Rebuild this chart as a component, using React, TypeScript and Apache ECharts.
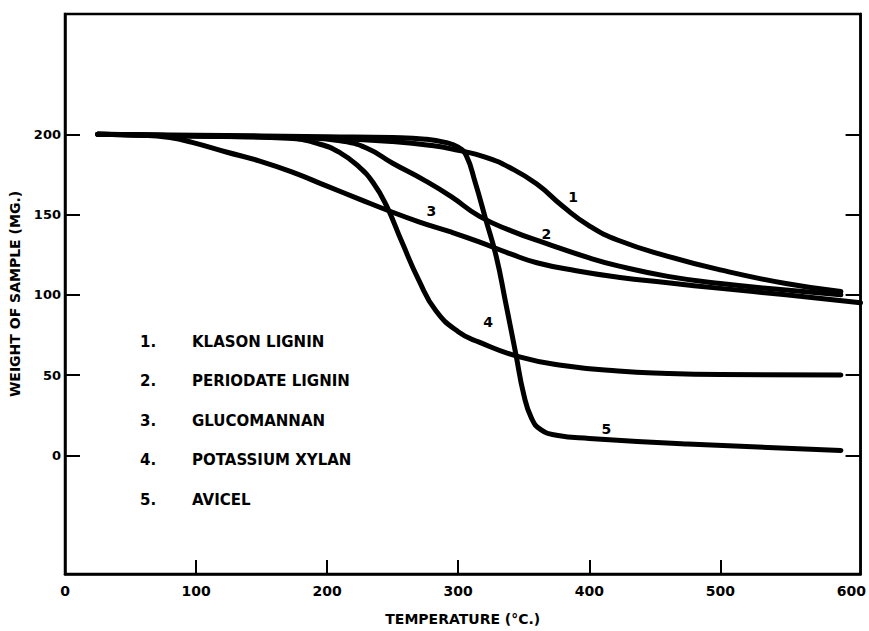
import React, { useEffect, useRef } from "react";
import * as echarts from "echarts";

// Thermogravimetric curves: sample weight (mg) versus temperature (°C)
const seriesNames = ["1", "2", "3", "4", "5"];

const klasonLignin: [number, number][] = [
  [25, 200], [100, 199], [200, 197.5], [250, 195.5], [280, 193], [300, 190],
  [320, 186], [340, 179], [360, 169], [380, 155], [400, 143], [422, 134],
  [460, 124], [500, 115.5], [550, 107], [592, 102],
];
const periodateLignin: [number, number][] = [
  [25, 200], [100, 199], [180, 198], [210, 196], [230, 191.5], [250, 182],
  [275, 171], [295, 161], [316, 149], [340, 140], [367, 132], [400, 123],
  [422, 118], [460, 111.5], [500, 107], [550, 103], [592, 100],
];
const glucomannan: [number, number][] = [
  [25, 200], [60, 199.5], [80, 198], [97, 195], [123, 189], [148, 183.5],
  [175, 176], [199, 168], [225, 159.5], [245, 153], [270, 145.5], [295, 139],
  [316, 133], [340, 125.5], [360, 120], [390, 115], [422, 111], [460, 107.5],
  [500, 104], [550, 100], [607, 95],
];
const potassiumXylan: [number, number][] = [
  [25, 200], [100, 199], [170, 197.5], [194, 194], [210, 188.5], [224, 180],
  [235, 170], [245, 156], [257, 133], [270, 109], [283, 90], [300, 77],
  [316, 70.5], [346, 61.5], [380, 56], [422, 52.5], [460, 51], [500, 50.3],
  [592, 50],
];
const avicel: [number, number][] = [
  [25, 200], [100, 199.5], [200, 198.5], [250, 198], [275, 197], [290, 195],
  [300, 192], [306, 187], [313, 170], [321, 147], [329, 124], [336, 96],
  [344, 63], [350, 38], [356, 23], [363, 16], [375, 12.5], [400, 10.5],
  [475, 7], [592, 3],
];

const curves = [klasonLignin, periodateLignin, glucomannan, potassiumXylan, avicel];

// Where each curve's number is written
const curveLabelAt: [number, number][] = [
  [387.6, 160.7],
  [367.3, 137.8],
  [279.6, 152.3],
  [322.8, 82.9],
  [413.1, 16.6],
];

const legendNumbers = ["1.", "2.", "3.", "4.", "5."];
const legendNames = [
  "KLASON LIGNIN",
  "PERIODATE LIGNIN",
  "GLUCOMANNAN",
  "POTASSIUM XYLAN",
  "AVICEL",
];

const xTicks = [0, 100, 200, 300, 400, 500, 600];
const xInnerTicks = [100, 200, 300, 400, 500];
const yTicks = [0, 50, 100, 150, 200];

const X_MIN = 0;
const X_MAX = 607;
const Y_MIN = -74;
const Y_MAX = 275;
// inward tick length along the bottom edge, in weight units (about 14 px)
const X_TICK_SPAN = 8.7;

const FONT = "'DejaVu Sans', 'Noto Sans', sans-serif";

export default function App() {
  const ref = useRef<HTMLDivElement>(null);

  useEffect(() => {
    if (!ref.current) return;
    const chart = echarts.init(ref.current, null, { renderer: "svg" });

    const legendGraphics: any[] = [];
    legendNames.forEach((name, i) => {
      const top = 334 + i * 39.5;
      legendGraphics.push({
        type: "text",
        left: 140,
        top,
        style: {
          text: legendNumbers[i],
          fill: "#000",
          font: `bold 15px ${FONT}`,
        },
      });
      legendGraphics.push({
        type: "text",
        left: 192,
        top,
        style: {
          text: name,
          fill: "#000",
          font: `bold 15px ${FONT}`,
        },
      });
    });

    const curveSeries = curves.map((data, i) => ({
      type: "line",
      name: seriesNames[i],
      data,
      showSymbol: false,
      smooth: 0.5,
      lineStyle: { color: "#000", width: 5, cap: "round", join: "round" },
      markPoint: {
        symbol: "circle",
        symbolSize: 0,
        silent: true,
        label: {
          show: true,
          position: "inside",
          formatter: seriesNames[i],
          color: "#000",
          fontFamily: FONT,
          fontWeight: "bold",
          fontSize: 14,
        },
        data: [{ coord: curveLabelAt[i] }],
      },
    }));

    // tick marks rising from the bottom edge of the frame
    const bottomTicks = {
      type: "line",
      data: [],
      silent: true,
      markLine: {
        silent: true,
        symbol: ["none", "none"],
        label: { show: false },
        lineStyle: { color: "#000", width: 2, type: "solid" },
        data: xInnerTicks.map((t) => [
          { coord: [t, Y_MIN] },
          { coord: [t, Y_MIN + X_TICK_SPAN] },
        ]),
      },
    };

    chart.setOption({
      animation: false,
      backgroundColor: "#fff",
      grid: {
        left: 65,
        right: 7,
        top: 14,
        bottom: 55,
        show: true,
        borderColor: "#000",
        borderWidth: 2.5,
        backgroundColor: "transparent",
      },
      xAxis: {
        type: "value",
        min: X_MIN,
        max: X_MAX,
        interval: 100,
        name: "TEMPERATURE (°C.)",
        nameLocation: "middle",
        nameGap: 38,
        nameTextStyle: {
          color: "#000",
          fontFamily: FONT,
          fontWeight: "bold",
          fontSize: 14,
        },
        axisLine: { show: true, onZero: false, lineStyle: { color: "#000", width: 2.5 } },
        axisTick: { show: false },
        axisLabel: {
          show: true,
          customValues: xTicks,
          margin: 10,
          color: "#000",
          fontFamily: FONT,
          fontWeight: "bold",
          fontSize: 14,
        },
        splitLine: { show: false },
      },
      yAxis: [
        {
          type: "value",
          min: Y_MIN,
          max: Y_MAX,
          name: "WEIGHT OF SAMPLE (MG.)",
          nameLocation: "middle",
          nameGap: 43,
          nameTextStyle: {
            color: "#000",
            fontFamily: FONT,
            fontWeight: "bold",
            fontSize: 14,
          },
          axisLine: { show: true, onZero: false, lineStyle: { color: "#000", width: 2.5 } },
          axisTick: {
            show: true,
            inside: true,
            length: 15,
            customValues: yTicks,
            lineStyle: { color: "#000", width: 2 },
          },
          axisLabel: {
            show: true,
            customValues: yTicks,
            margin: 4,
            color: "#000",
            fontFamily: FONT,
            fontWeight: "bold",
            fontSize: 13,
          },
          splitLine: { show: false },
        },
        {
          type: "value",
          position: "right",
          min: Y_MIN,
          max: Y_MAX,
          axisLine: { show: true, onZero: false, lineStyle: { color: "#000", width: 2.5 } },
          axisTick: {
            show: true,
            inside: true,
            length: 15,
            customValues: yTicks,
            lineStyle: { color: "#000", width: 2 },
          },
          axisLabel: { show: false },
          splitLine: { show: false },
        },
      ],
      series: [...curveSeries, bottomTicks],
      graphic: legendGraphics,
    });

    return () => chart.dispose();
  }, []);

  return (
    <div
      ref={ref}
      style={{ position: "absolute", left: 0, top: 0, width: 869, height: 631 }}
    />
  );
}
